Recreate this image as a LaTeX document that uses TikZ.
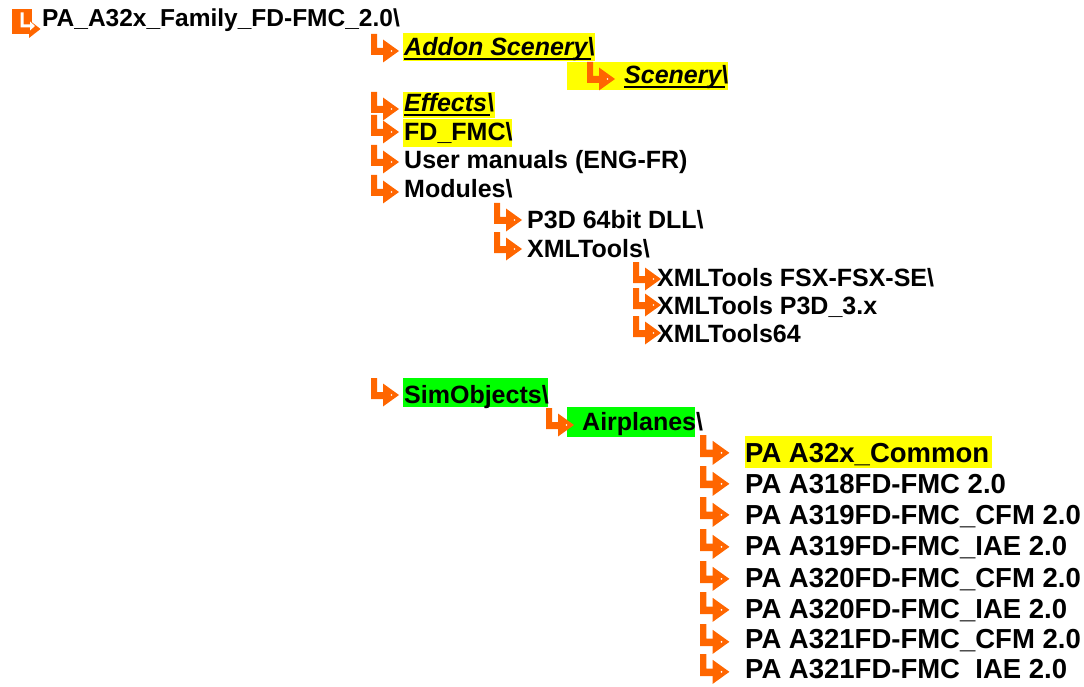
\documentclass[tikz,border=0pt]{standalone}
\usepackage{fontspec}
\setmainfont{Liberation Sans}
\definecolor{ico}{HTML}{FF6600}
\definecolor{hy}{HTML}{FFFF00}
\definecolor{hg}{HTML}{00FF00}
\tikzset{
  lbl/.style={anchor=base west, inner sep=0pt, font=\fontsize{25}{30}\selectfont\bfseries},
  lbli/.style={lbl, font=\fontsize{25}{30}\selectfont\bfseries\itshape},
  lblbig/.style={lbl, font=\fontsize{27.5}{33}\selectfont\bfseries},
  lblroot/.style={lbl, font=\fontsize{24.5}{29}\selectfont\bfseries},
  icon/.pic={
    \fill[ico] (0,0) rectangle (6,21) (0,14) rectangle (14,21);
    \fill[ico] (12,5.5) -- (28,17) -- (12,28.5) -- cycle;
    \fill[white] (20.5,17) circle (0.9);
  },
  rooticon/.pic={
    \fill[ico] (0,0) rectangle (20,25);
    \fill[ico] (17,11) -- (28.5,20) -- (17,29) -- cycle;
    \fill[white] (8.5,3.5) rectangle (11.5,18.5) (8.5,15.5) rectangle (19,18.5);
    \fill[white] (18,12.5) -- (23,17) -- (18,21.5) -- cycle;
  }
}
\newcommand{\bs}{\textbackslash}
\begin{document}
\begin{tikzpicture}[x=1pt,y=-1pt]
\useasboundingbox (0,0) rectangle (1084,687);
% highlights
\fill[hy] (403,33) rectangle (595,61);
\fill[hy] (567,62) rectangle (728,90);
\fill[hy] (403,92) rectangle (495,118);
\fill[hy] (403,119) rectangle (512,147);
\fill[hg] (403,378) rectangle (548,407);
\fill[hg] (567,407) rectangle (695,437);
\fill[hy] (745,436) rectangle (992,468);
% root
\pic at (12,9) {rooticon};
\node[lblroot] (root) at (42,27) {PA\_A32x\_Family\_FD-FMC\_2.0\bs};
% level 1
\pic at (371,34) {icon};
\node[lbli] (addon) at (404,56) {Addon Scenery\bs};
\pic at (587,62) {icon};
\node[lbli] (scen) at (624,84) {Scenery\bs};
\pic at (371,92) {icon};
\node[lbli] (eff) at (404,112) {Effects\bs};
\pic at (371,115) {icon};
\node[lbl] (fdfmc) at (404,141) {FD\_FMC\bs};
\pic at (371,145) {icon};
\node[lbl] (user) at (404,169) {User manuals (ENG-FR)};
\pic at (371,175) {icon};
\node[lbl] (mod) at (404,198) {Modules\bs};
\pic at (494,203) {icon};
\node[lbl] (p3d) at (527,229) {P3D 64bit DLL\bs};
\pic at (494,232) {icon};
\node[lbl] (xml) at (527,257) {XMLTools\bs};
\pic at (633,262) {icon};
\node[lbl] (xfsx) at (657,286) {XMLTools FSX-FSX-SE\bs};
\pic at (633,288) {icon};
\node[lbl] (xp3d) at (657,314) {XMLTools P3D\_3.x};
\pic at (633,316) {icon};
\node[lbl] (x64) at (657,342) {XMLTools64};
\pic at (371,378) {icon};
\node[lbl] (sim) at (404,403) {SimObjects\bs};
\pic at (546,408) {icon};
\node[lbl] (air) at (582,430) {Airplanes\bs};
% underlines
\foreach \n in {addon,scen,eff}{
  \fill ([yshift=-2pt]\n.base west) rectangle ([yshift=-4.5pt,xshift=-4pt]\n.base east);
}
% aircraft
\foreach \t/\b/\lab [count=\i] in {435/462/{PA A32x\_Common},466/493/{PA A318FD-FMC 2.0},497/524/{PA A319FD-FMC\_CFM 2.0},529/555/{PA A319FD-FMC\_IAE 2.0},561/587/{PA A320FD-FMC\_CFM 2.0},592/618/{PA A320FD-FMC\_IAE 2.0},624/648/{PA A321FD-FMC\_CFM 2.0},654/678/{PA A321FD-FMC\phantom{\_}IAE 2.0}}{
  \pic[scale=1.05] at (700,\t) {icon};
  \node[lblbig] (ac\i) at (745,\b) {\lab};
}
\end{tikzpicture}
\end{document}
